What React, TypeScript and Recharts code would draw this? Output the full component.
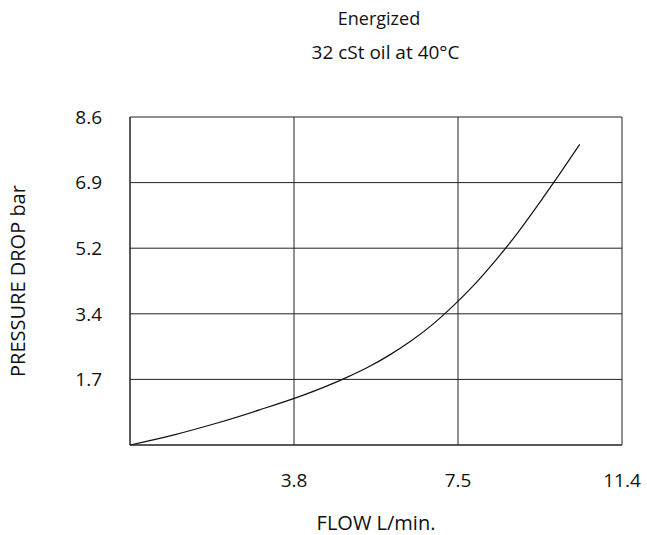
import { LineChart, Line, XAxis, YAxis, CartesianGrid } from "recharts";

// flow in L/min, pressure drop in bar
const flow = [0, 1, 2, 3, 4, 5, 5.5, 6, 6.5, 7, 7.5, 8, 8.5, 9, 9.5, 10, 10.42];
const drop = [0, 0.26, 0.57, 0.92, 1.3, 1.76, 2.03, 2.35, 2.72, 3.15, 3.66, 4.23, 4.88, 5.59, 6.37, 7.18, 7.88];

const xTicks = [3.8, 7.6, 11.4];
const xTickLabels = ["3.8", "7.5", "11.4"];
const yTicks = [1.72, 3.44, 5.16, 6.88, 8.6];
const yTickLabels = ["1.7", "3.4", "5.2", "6.9", "8.6"];

const data = flow.map((f, i) => ({ flow: f, drop: drop[i] }));

const font = "'Open Sans', sans-serif";
const tickStyle = { fontSize: 19, fill: "#111", fontFamily: font };
const labelStyle = { fontSize: 20, fill: "#111", fontFamily: font };

export default function App() {
  return (
    <div style={{ position: "absolute", left: 0, top: 0, width: 647, height: 535, background: "#fff", fontFamily: font }}>
      <div style={{ position: "absolute", top: 6, left: 0, width: 758, textAlign: "center", fontSize: 18, color: "#111" }}>
        Energized
      </div>
      <div style={{ position: "absolute", top: 39, left: 0, width: 771, textAlign: "center", fontSize: 19, color: "#111" }}>
        32 cSt oil at 40°C
      </div>
      <LineChart
        width={647}
        height={535}
        data={data}
        margin={{ top: 117, right: 25, left: 70, bottom: 0 }}
      >
        <CartesianGrid stroke="#222" strokeWidth={1} />
        <XAxis
          dataKey="flow"
          type="number"
          domain={[0, 11.4]}
          ticks={xTicks}
          tickFormatter={(v, i) => xTickLabels[i]}
          tickLine={false}
          tickSize={0}
          tickMargin={29}
          axisLine={{ stroke: "#222" }}
          tick={tickStyle}
          height={90}
          label={{ value: "FLOW L/min.", position: "insideBottom", offset: 5, style: labelStyle }}
        />
        <YAxis
          type="number"
          domain={[0, 8.6]}
          ticks={yTicks}
          tickFormatter={(v, i) => yTickLabels[i]}
          tickLine={false}
          tickSize={0}
          tickMargin={28}
          axisLine={{ stroke: "#222" }}
          tick={tickStyle}
          width={60}
          label={{ value: "PRESSURE DROP bar", angle: -90, position: "insideLeft", offset: -52, style: { ...labelStyle, textAnchor: "middle" } }}
        />
        <Line
          dataKey="drop"
          type="monotone"
          stroke="#111"
          strokeWidth={1.2}
          dot={false}
          isAnimationActive={false}
        />
      </LineChart>
    </div>
  );
}
